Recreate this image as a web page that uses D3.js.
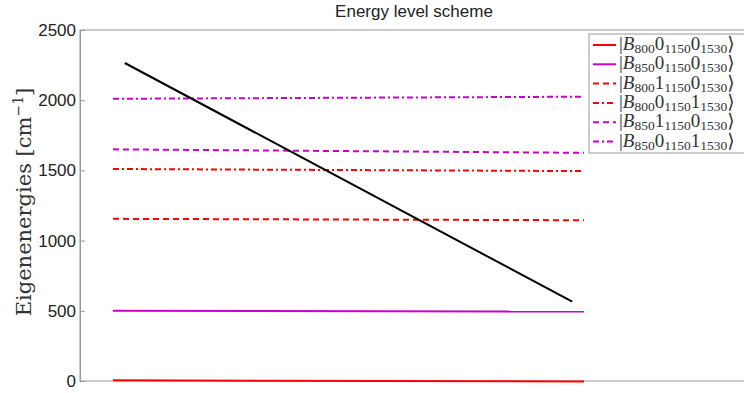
<!DOCTYPE html>
<html>
<head>
<meta charset="utf-8">
<script src="https://cdn.jsdelivr.net/npm/d3@7"></script>
<style>
  body { margin: 0; background: #fff; }
  svg { display: block; }
</style>
</head>
<body>
<script>
// parameter runs from 0 to 1 across the drawn levels
var xPts = [0, 1];
var levelStart = [5, 500, 1155, 1510, 1650, 2010];
var levelEnd   = [-3, 495, 1145, 1495, 1625, 2025];
var levelColor = ["#ff0000", "#cc00cc", "#ff0000", "#ff0000", "#cc00cc", "#cc00cc"];
var levelDash  = ["", "", "6,4", "6,3,2,3", "6,4", "6,3,2,3"];
var levelLabel = [
  ["800", "0", "1150", "0", "1530"],
  ["850", "0", "1150", "0", "1530"],
  ["800", "1", "1150", "0", "1530"],
  ["800", "0", "1150", "1", "1530"],
  ["850", "1", "1150", "0", "1530"],
  ["850", "0", "1150", "1", "1530"]
];
var blackX = [0.025, 0.975];
var blackY = [2265, 565];
var yTicks = [0, 500, 1000, 1500, 2000, 2500];

var W = 744, H = 393;
var plotL = 80, plotT = 30, plotR = 770, plotB = 381;

var svg = d3.select("body").append("svg")
    .attr("width", W).attr("height", H);

var x = d3.scaleLinear().domain([0, 1]).range([113, 584]);
var y = d3.scaleLinear().domain([0, 2500]).range([plotB, plotT]);

// box
svg.append("rect")
    .attr("x", plotL).attr("y", plotT)
    .attr("width", plotR - plotL).attr("height", plotB - plotT)
    .attr("fill", "none").attr("stroke", "#999").attr("stroke-width", 1);

var yAxis = d3.axisLeft(y).tickValues(yTicks).tickFormat(d3.format("d")).tickSize(-5).tickPadding(4);
var gy = svg.append("g")
    .attr("transform", "translate(" + plotL + ",0)")
    .call(yAxis);
gy.select(".domain").attr("stroke", "#999");
gy.selectAll(".tick line").attr("stroke", "#999");
gy.selectAll(".tick text")
    .attr("font-family", "Liberation Sans, Arial, sans-serif")
    .attr("font-size", 17).attr("fill", "#222");

var line = d3.line().x(function(d) { return x(d[0]); }).y(function(d) { return y(d[1]); });

levelStart.forEach(function(v, i) {
  svg.append("path")
      .datum([[xPts[0], v], [xPts[1], levelEnd[i]]])
      .attr("d", line)
      .attr("fill", "none")
      .attr("stroke", levelColor[i])
      .attr("stroke-width", 2)
      .attr("stroke-dasharray", levelDash[i]);
});

svg.append("path")
    .datum([[blackX[0], blackY[0]], [blackX[1], blackY[1]]])
    .attr("d", line)
    .attr("fill", "none")
    .attr("stroke", "#000")
    .attr("stroke-width", 2);

// title
svg.append("text")
    .attr("x", 414).attr("y", 17)
    .attr("text-anchor", "middle")
    .attr("font-family", "Liberation Sans, Arial, sans-serif")
    .attr("font-size", 17).attr("fill", "#222")
    .text("Energy level scheme");

// y label
var yl = svg.append("text")
    .attr("transform", "translate(31,202) rotate(-90)")
    .attr("text-anchor", "middle")
    .attr("font-family", "DejaVu Serif, Liberation Serif, serif")
    .attr("font-size", 21).attr("fill", "#333");
yl.append("tspan").text("Eigenenergies [cm");
yl.append("tspan").attr("baseline-shift", "super").attr("font-size", 14).text("\u22121");
yl.append("tspan").text("]");

// legend
var lg = svg.append("g");
lg.append("rect")
    .attr("x", 589).attr("y", 34).attr("width", 180).attr("height", 119)
    .attr("fill", "#fff").attr("stroke", "#999");

levelLabel.forEach(function(lab, i) {
  var cy = 45 + i * 19.3;
  lg.append("line")
      .attr("x1", 593).attr("x2", 616).attr("y1", cy).attr("y2", cy)
      .attr("stroke", levelColor[i]).attr("stroke-width", 2)
      .attr("stroke-dasharray", levelDash[i]);
  var t = lg.append("text")
      .attr("x", 619).attr("y", cy + 5)
      .attr("font-family", "Liberation Serif, DejaVu Serif, serif")
      .attr("font-size", 19).attr("fill", "#333");
  t.append("tspan").text("|");
  t.append("tspan").attr("font-style", "italic").text("B");
  t.append("tspan").attr("font-size", 13.5).attr("dy", 3).text(lab[0]);
  t.append("tspan").attr("dy", -3).text(lab[1]);
  t.append("tspan").attr("font-size", 13.5).attr("dy", 3).text(lab[2]);
  t.append("tspan").attr("dy", -3).text(lab[3]);
  t.append("tspan").attr("font-size", 13.5).attr("dy", 3).text(lab[4]);
  t.append("tspan").attr("dy", -3).text("\u27E9");
});
</script>
</body>
</html>
